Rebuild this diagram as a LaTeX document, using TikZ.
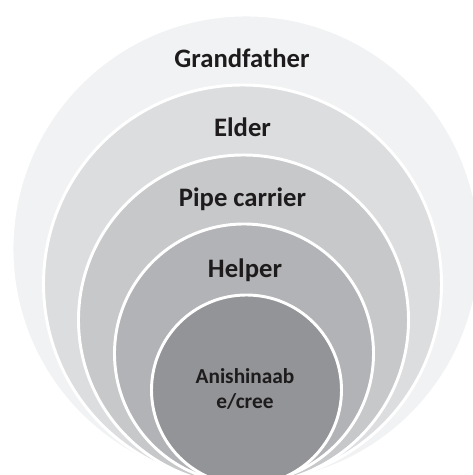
\documentclass[tikz,border=0pt]{standalone}
\usepackage{fontspec}
\setmainfont{Carlito}
\usepackage{xcolor}
\definecolor{ringA}{HTML}{F1F2F3}
\definecolor{ringB}{HTML}{DCDDDF}
\definecolor{ringC}{HTML}{C7C8CA}
\definecolor{ringD}{HTML}{B2B3B6}
\definecolor{ringE}{HTML}{939497}
\definecolor{labeltext}{HTML}{1E1B1C}

\begin{document}
\begin{tikzpicture}[x=0.75pt, y=0.75pt,
    every node/.style={font=\bfseries\fontsize{20}{24}\selectfont, text=labeltext, inner sep=0pt},
    ringlabel/.style={anchor=base}]
        \useasboundingbox (0,0) rectangle (473,475);
        \clip (0,0) rectangle (473,475);
        % rings, outermost first
        \foreach \cx/\cy/\r/\col in {246/249/234/ringA, 242.5/284/199/ringB,
            243.5/320/165/ringC, 244/353.5/129.5/ringD, 246.5/390/95/ringE}
        \filldraw[fill=\col, draw=white, line width=2.2pt] (\cx,475-\cy) circle (\r);
        \node[ringlabel] (grandfather) at (242,407) {Grandfather};
        \node[ringlabel] (elder) at (242.5,338) {Elder};
        \node[ringlabel] (pipecarrier) at (242.5,268) {Pipe carrier};
        \node[ringlabel] (helper) at (245,197) {Helper};
        \node[align=center, font=\bfseries\fontsize{16}{19}\selectfont]
            (anishinaabe) at (245,86) {Anishinaab\\e/cree};
    \end{tikzpicture}
\end{document}
